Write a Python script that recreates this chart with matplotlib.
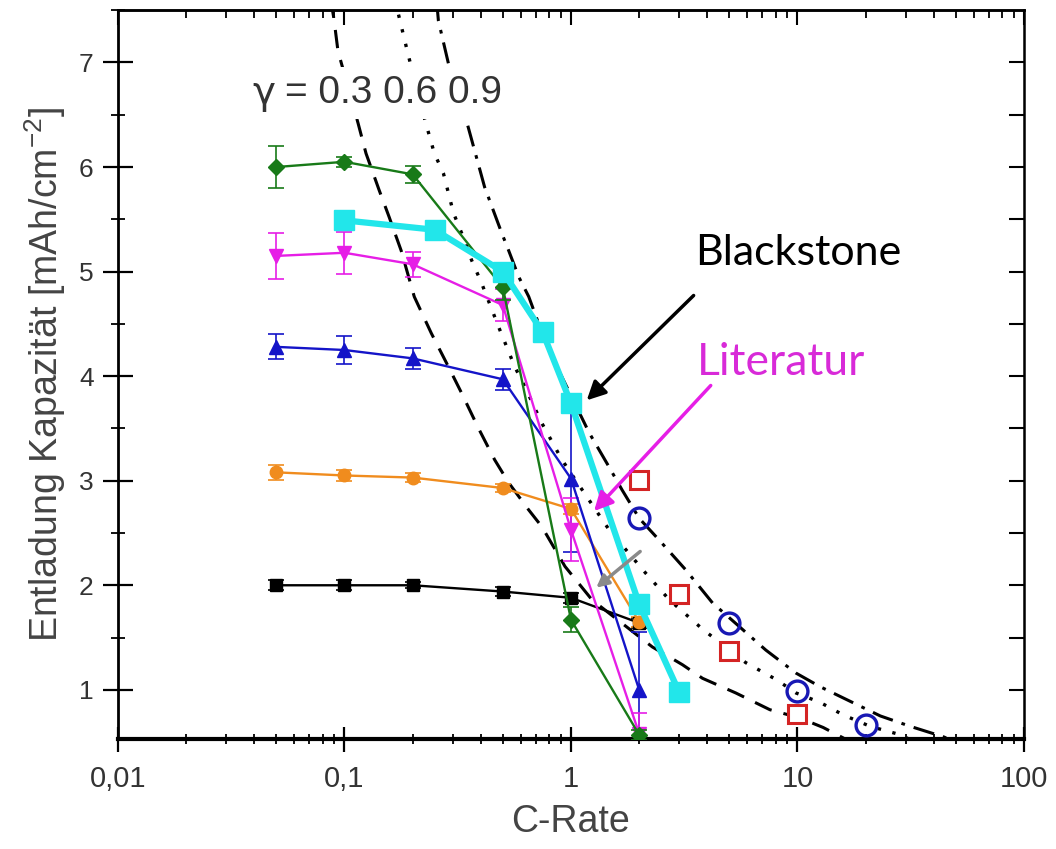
import matplotlib
matplotlib.use("Agg")
import matplotlib.pyplot as plt
from matplotlib.ticker import FixedLocator, LogLocator, NullFormatter

plt.rcParams['font.family'] = ['Liberation Sans', 'DejaVu Sans']
plt.rcParams['mathtext.fontset'] = 'custom'
plt.rcParams['mathtext.rm'] = 'Liberation Sans'
plt.rcParams['mathtext.it'] = 'Liberation Sans'

# ---- measured series ----
rate_std = [0.05, 0.1, 0.2, 0.5, 1, 2]
cap_black = [2.00, 2.00, 2.00, 1.94, 1.88, 1.64]
err_black = [0.05, 0.05, 0.03, 0.04, 0.05, 0.05]
cap_orange = [3.08, 3.05, 3.03, 2.93, 2.73, 1.65]
err_orange = [0.07, 0.05, 0.04, 0.04, 0.05, 0.05]
cap_blue = [4.28, 4.25, 4.17, 3.97, 3.02, 1.00]
err_blue = [0.12, 0.13, 0.10, 0.10, 0.70, 0.55]
cap_magenta = [5.15, 5.18, 5.07, 4.68, 2.53, 0.58]
err_magenta = [0.22, 0.20, 0.12, 0.15, 0.30, 0.20]
cap_green = [6.00, 6.05, 5.93, 4.85, 1.67, 0.57]
err_green = [0.20, 0.05, 0.08, 0.12, 0.12, 0.05]

rate_cyan = [0.1, 0.25, 0.5, 0.75, 1, 2, 3]
cap_cyan = [5.49, 5.40, 5.00, 4.42, 3.74, 1.82, 0.98]

rate_red = [2, 3, 5, 10]
cap_red = [3.01, 1.92, 1.37, 0.77]

rate_circ = [2, 5, 10, 20]
cap_circ = [2.64, 1.64, 0.99, 0.66]

# ---- model curves ----
g03_x = [0.087, 0.0898, 0.0936, 0.1148, 0.1245, 0.1422, 0.1576, 0.178, 0.2033, 0.2418,
         0.2877, 0.3286, 0.3908, 0.4603, 0.531, 0.651, 0.744, 0.941, 1.239, 2.287,
         3.106, 3.81, 5.34, 7.55, 10.26, 12.98, 15.92, 17.5]
g03_y = [7.60, 7.42, 7.11, 6.42, 6.13, 5.78, 5.52, 5.20, 4.76, 4.41,
         4.09, 3.84, 3.50, 3.20, 2.98, 2.72, 2.56, 2.18, 1.86, 1.41,
         1.24, 1.11, 0.97, 0.81, 0.73, 0.64, 0.54, 0.48]
g06_x = [0.170, 0.1727, 0.1913, 0.2252, 0.2494, 0.2734, 0.3029, 0.3388, 0.364, 0.403,
         0.4794, 0.5646, 0.6252, 0.744, 0.912, 1.474, 2.129, 2.72, 3.81, 5.91,
         8.03, 9.85, 12.58, 15.92, 20.97, 28.49, 33.0]
g06_y = [7.60, 7.47, 7.07, 6.47, 6.13, 5.94, 5.56, 5.30, 5.11, 4.89,
         4.47, 4.09, 3.90, 3.55, 3.20, 2.53, 2.12, 1.86, 1.58, 1.26,
         1.10, 0.97, 0.88, 0.76, 0.65, 0.57, 0.50]
g09_x = [0.255, 0.2598, 0.2877, 0.3388, 0.3752, 0.4154, 0.4943, 0.531, 0.5879, 0.651,
         0.767, 0.849, 1.202, 1.474, 1.683, 2.002, 2.456, 3.203, 4.22, 5.18,
         7.25, 9.85, 12.58, 17.09, 23.22, 31.55, 44.18, 50.0]
g09_y = [7.60, 7.40, 6.99, 6.51, 6.16, 5.81, 5.37, 5.20, 4.95, 4.76,
         4.34, 4.13, 3.46, 3.13, 2.91, 2.64, 2.43, 2.15, 1.83, 1.66,
         1.38, 1.16, 1.03, 0.89, 0.75, 0.65, 0.55, 0.50]

x_ticks = [0.01, 0.1, 1, 10, 100]
x_ticklabels = ['0,01', '0,1', '1', '10', '100']
y_ticks = [1, 2, 3, 4, 5, 6, 7]

fig = plt.figure(figsize=(10.56, 8.49), dpi=100)
ax = fig.add_axes([0.1117, 0.1296, 0.8580, 0.8584])
ax.set_xscale('log')
ax.set_xlim(0.01, 100)
ax.set_ylim(0.53, 7.5)

# model curves
ax.plot(g03_x, g03_y, color='black', lw=2.2, dashes=(6, 4), zorder=2)
ax.plot(g06_x, g06_y, color='black', lw=2.4, dashes=(1, 3.5), zorder=2)
ax.plot(g09_x, g09_y, color='black', lw=2.2, dashes=(7, 3, 1.2, 3), zorder=2)

ms = 9
def series(y, e, color, marker, size=ms, z=4):
    ax.errorbar(rate_std, y, yerr=e, color=color, marker=marker, ms=size, lw=1.7,
                elinewidth=1.2, capsize=6, capthick=1.2, zorder=z)

series(cap_black, err_black, 'black', 's', 8)
series(cap_orange, err_orange, '#f08c1e', 'o', 9)
series(cap_blue, err_blue, '#1414c8', '^', 10)
series(cap_magenta, err_magenta, '#e61ee6', 'v', 10)
series(cap_green, err_green, '#187a18', 'D', 8, 5)

ax.plot(rate_cyan, cap_cyan, color='#22e6ea', lw=4.5, marker='s', ms=15, zorder=6)
ax.plot(rate_red, cap_red, ls='none', marker='s', ms=13, mfc='white', mec='#d42424',
        mew=2.2, zorder=6)
ax.plot(rate_circ, cap_circ, ls='none', marker='o', ms=15, mfc='none', mec='#1818b4',
        mew=2.4, zorder=6)

# annotations
bb = dict(facecolor='white', edgecolor='none', pad=6)
ax.text(0.0393, 6.71, 'γ', fontsize=28, family=['DejaVu Sans'], color='#333333',
        va='center', ha='left', zorder=3, bbox=bb)
ax.text(0.0545, 6.71, '= 0.3 0.6 0.9', fontsize=28, color='#333333', va='center', ha='left',
        zorder=3, bbox=bb)
ax.text(3.55, 5.06, 'Blackstone', fontsize=31, family=['Lato', 'DejaVu Sans'],
        color='black', va='baseline', ha='left')
ax.text(3.6, 4.01, 'Literatur', fontsize=32, family=['Lato', 'DejaVu Sans'],
        color='#d82ad8', va='baseline', ha='left')
ax.annotate('', xy=(1.15, 3.75), xytext=(3.55, 4.79),
            arrowprops=dict(arrowstyle='-|>', color='black', lw=2.5, mutation_scale=28), zorder=8)
ax.annotate('', xy=(1.24, 2.69), xytext=(4.22, 3.93),
            arrowprops=dict(arrowstyle='-|>', color='#e61ee6', lw=2.5, mutation_scale=28), zorder=8)
ax.annotate('', xy=(1.265, 1.96), xytext=(2.065, 2.34),
            arrowprops=dict(arrowstyle='-|>', color='#8a8a8a', lw=2.5, mutation_scale=18), zorder=8)

# axes styling
ax.set_xticks(x_ticks)
ax.set_xticklabels(x_ticklabels)
ax.xaxis.set_minor_locator(LogLocator(base=10, subs=range(2, 10)))
ax.xaxis.set_minor_formatter(NullFormatter())
ax.set_yticks(y_ticks)
ax.yaxis.set_minor_locator(FixedLocator([0.5 + i for i in range(8)]))
ax.tick_params(axis='y', which='major', direction='inout', length=21, width=1.6,
               labelsize=19, labelcolor='#333333', pad=7)
ax.tick_params(axis='y', which='minor', direction='inout', length=10, width=1.3)
ax.tick_params(axis='x', which='major', direction='inout', length=18, width=1.6,
               labelsize=21, labelcolor='#333333', pad=10)
ax.tick_params(axis='x', which='minor', direction='inout', length=7, width=1.3)

for side in ['top', 'right']:
    ax.spines[side].set_linewidth(1.8)
ax.spines['left'].set_linewidth(2.0)
ax.spines['bottom'].set_linewidth(3.0)

sx = ax.secondary_xaxis('top')
sx.set_xticks(x_ticks)
sx.xaxis.set_minor_locator(LogLocator(base=10, subs=range(2, 10)))
sx.tick_params(which='major', direction='in', length=11, width=1.5, labeltop=False)
sx.tick_params(which='minor', direction='in', length=6, width=1.3, labeltop=False)
sx.spines['top'].set_linewidth(1.8)
sy = ax.secondary_yaxis('right')
sy.set_yticks([0.5 * i for i in range(2, 15)])
sy.tick_params(which='major', direction='in', length=11, width=1.5, labelright=False)

ax.set_xlabel('C-Rate', fontsize=27, color='#444444', labelpad=8)
ax.set_ylabel('Entladung Kapazität [mAh/cm$^{-2}$]', fontsize=27, color='#444444', labelpad=8)

fig.savefig('out.png', dpi=100)
